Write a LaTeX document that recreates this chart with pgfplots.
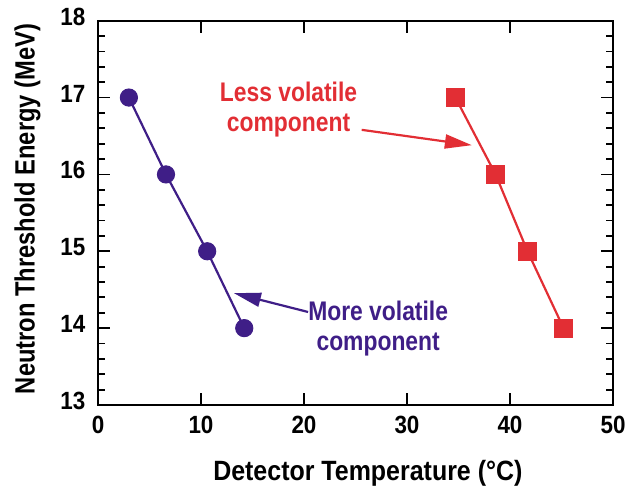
\documentclass[border=0pt]{standalone}
\usepackage{pgfplots}
\pgfplotsset{compat=1.18}
\usetikzlibrary{arrows.meta}
\usepackage{fontspec}
\setmainfont[FakeStretch=0.88]{Liberation Sans}
\newfontfamily\ylabfont[FakeStretch=0.85]{Liberation Sans}
\newfontfamily\xlabfont[FakeStretch=0.895]{Liberation Sans}
\newfontfamily\tickfont[FakeStretch=0.90]{Liberation Sans}
\newfontfamily\annfont[FakeStretch=0.85]{Liberation Sans}
\definecolor{vpurple}{RGB}{63,30,135}
\definecolor{vred}{RGB}{226,46,52}
\begin{document}
\begin{tikzpicture}
\begin{axis}[
  name=ax,
  scale only axis, width=515bp, height=384.3bp,
  xmin=0, xmax=50, ymin=13, ymax=18,
  xtick={0,10,...,50}, ytick={13,...,18},
  minor y tick num=4,
  tick align=inside,
  major tick length=12bp, minor tick length=7bp,
  every tick/.style={black, line width=1.8bp},
  axis line style={line width=2bp},
  tick label style={font=\fontsize{25}{30}\selectfont\tickfont\bfseries, inner sep=0pt},
  /pgf/number format/assume math mode=true,
  xticklabel style={anchor=north, yshift=-11bp},
  yticklabel style={anchor=east, xshift=-12.5bp, yshift=4bp},
  xlabel={Detector Temperature (°C)},
  ylabel={Neutron Threshold Energy (MeV)},
  xlabel style={font=\fontsize{28}{32}\selectfont\xlabfont\bfseries, inner sep=0pt,
    at={(axis description cs:0.524,-0.1952)}, anchor=base},
  ylabel style={font=\fontsize{28}{32}\selectfont\ylabfont\bfseries, inner sep=0pt,
    at={(axis description cs:-0.1369,0.51)}, anchor=center},
  clip=false,
]
\addplot[vpurple, line width=2.2bp, mark=*, mark size=8.6bp, mark options={fill=vpurple, draw=vpurple, line width=1bp}]
  coordinates {(3.0,17) (6.6,16) (10.6,15) (14.2,14)};
\addplot[vred, line width=2.2bp, mark=square*, mark size=9bp, mark options={fill=vred, draw=vred, line width=1bp}]
  coordinates {(34.7,17) (38.6,16) (41.7,15) (45.2,14)};
\draw[vred, line width=2.2bp, -{Triangle[length=27bp, width=14bp]}]
  (axis cs:25.6,16.58) -- (axis cs:36.3,16.38);
\draw[vpurple, line width=2.2bp, -{Triangle[length=27bp, width=14bp]}]
  (axis cs:20.4,14.21) -- (axis cs:13.2,14.455);
\node[vred, align=center, font=\fontsize{27}{30}\selectfont\annfont\bfseries] at (axis cs:18.5,16.84) {Less volatile\\component};
\node[vpurple, align=center, font=\fontsize{27}{30}\selectfont\annfont\bfseries] at (axis cs:27.2,14.0) {More volatile\\component};
\end{axis}
\pgfresetboundingbox
\path[use as bounding box] ([shift={(-98bp,-83bp)}]ax.south west) rectangle ([shift={(15bp,20.7bp)}]ax.north east);
\end{tikzpicture}
\end{document}
